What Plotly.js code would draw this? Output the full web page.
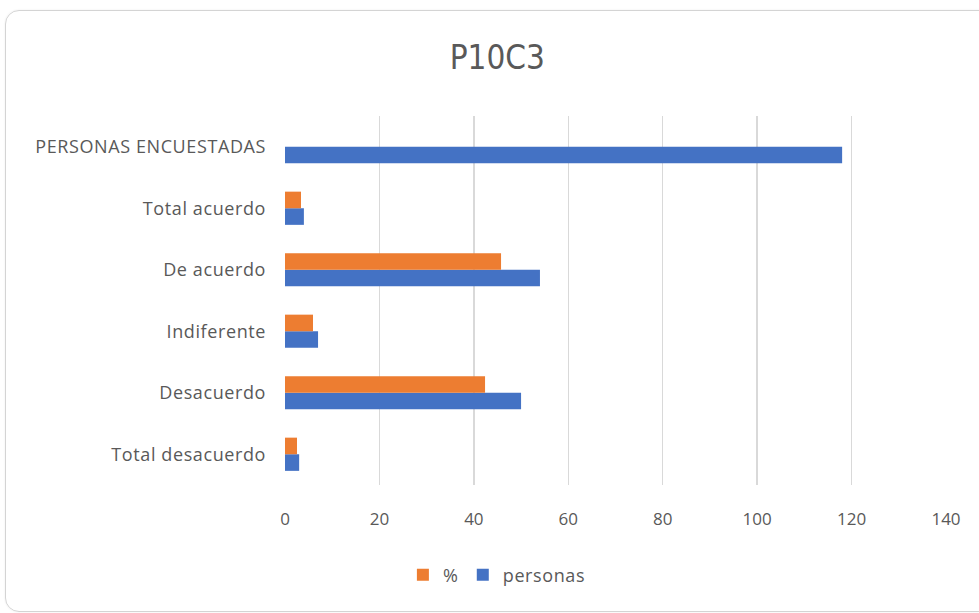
<!DOCTYPE html>
<html>
<head>
<meta charset="utf-8">
<script src="https://cdn.plot.ly/plotly-3.0.1.min.js"></script>
<style>
html, body { margin:0; padding:0; background:#ffffff; }
#frame { position:absolute; left:5px; top:10px; width:990px; height:600px; border:1px solid #d4d4d4; border-radius:14px; box-shadow:0 0 2px rgba(0,0,0,0.08); }
#chart { position:absolute; left:0; top:0; width:979px; height:613px; }
#chart .ytick text { letter-spacing:0.6px; }
#chart .legendtext { letter-spacing:0.6px; }
</style>
</head>
<body>
<div id="frame"></div>
<div id="chart"></div>
<script>
const categories = ["Total desacuerdo", "Desacuerdo", "Indiferente", "De acuerdo", "Total acuerdo", "PERSONAS ENCUESTADAS"];
const personas = [3, 50, 7, 54, 4, 118];
const porcentaje = [2.54, 42.37, 5.93, 45.76, 3.39, null];
const xTicks = [0, 20, 40, 60, 80, 100, 120, 140];

const fontFam = "'Open Sans', 'Liberation Sans', sans-serif";
const titleFam = "'DejaVu Sans Condensed', 'Open Sans', sans-serif";
const grey = "#595959";

const traces = [
  { type:"bar", orientation:"h", name:"personas", y:categories, x:personas,
    marker:{color:"#4472C4"}, hoverinfo:"x" },
  { type:"bar", orientation:"h", name:"%", y:categories, x:porcentaje,
    marker:{color:"#ED7D31"}, hoverinfo:"x" }
];

const layout = {
  width:979, height:613,
  paper_bgcolor:"rgba(0,0,0,0)", plot_bgcolor:"rgba(0,0,0,0)",
  margin:{l:285, r:33, t:116, b:128},
  barmode:"group", bargap:0.46, bargroupgap:0,
  title:{ text:"P10C3", font:{family:titleFam, size:33, color:grey},
    xref:"container", x:0.508, xanchor:"center", yref:"container", y:0.907, yanchor:"middle" },
  xaxis:{ range:[0,140], tickvals:xTicks, ticktext:xTicks.map(String),
    showgrid:true, gridcolor:"#d9d9d9", gridwidth:1.5, zeroline:false, showline:false,
    ticks:"", ticklen:0, ticklabelstandoff:22, tickfont:{family:fontFam, size:17, color:grey}, fixedrange:true },
  yaxis:{ type:"category", categoryorder:"array", categoryarray:categories,
    showgrid:false, zeroline:false, showline:false, ticks:"", ticklen:0,
    ticklabelstandoff:18, tickfont:{family:fontFam, size:18, color:grey}, fixedrange:true },
  showlegend:true,
  legend:{ orientation:"h", traceorder:"reversed", xref:"container", x:0.505, xanchor:"center",
    yref:"container", y:0.062, yanchor:"middle", font:{family:fontFam, size:18, color:grey},
    itemwidth:30, bgcolor:"rgba(0,0,0,0)" }
};

Plotly.newPlot("chart", traces, layout, {displayModeBar:false, staticPlot:true});
</script>
</body>
</html>
